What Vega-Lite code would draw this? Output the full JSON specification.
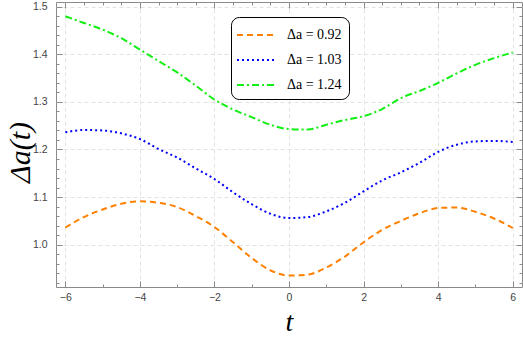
{
  "$schema": "https://vega.github.io/schema/vega-lite/v6.json",
  "autosize": {"type": "none"},
  "width": 466,
  "height": 285,
  "padding": {"left": 56, "top": 2, "right": 1, "bottom": 50},
  "background": "white",
  "config": {
    "view": {"stroke": "#8a8a8a", "strokeWidth": 1},
    "axis": {"domain": false, "labelFont": "Liberation Sans", "labelFontSize": 10.5, "labelColor": "#444", "tickColor": "#8a8a8a", "gridColor": "#e2e2e2", "gridDash": [4, 3], "gridWidth": 1}
  },
  "data": {"values": [
    {"t": -6, "v": 1.036, "s": "Δa = 0.92"}, {"t": -5.5, "v": 1.058, "s": "Δa = 0.92"}, {"t": -5, "v": 1.074, "s": "Δa = 0.92"}, {"t": -4.5, "v": 1.086, "s": "Δa = 0.92"}, {"t": -4, "v": 1.091, "s": "Δa = 0.92"}, {"t": -3.5, "v": 1.088, "s": "Δa = 0.92"}, {"t": -3, "v": 1.079, "s": "Δa = 0.92"}, {"t": -2.5, "v": 1.060, "s": "Δa = 0.92"}, {"t": -2, "v": 1.037, "s": "Δa = 0.92"}, {"t": -1.5, "v": 1.005, "s": "Δa = 0.92"}, {"t": -1, "v": 0.972, "s": "Δa = 0.92"}, {"t": -0.5, "v": 0.946, "s": "Δa = 0.92"}, {"t": 0, "v": 0.935, "s": "Δa = 0.92"}, {"t": 0.5, "v": 0.937, "s": "Δa = 0.92"}, {"t": 1, "v": 0.952, "s": "Δa = 0.92"}, {"t": 1.5, "v": 0.975, "s": "Δa = 0.92"}, {"t": 2, "v": 1.005, "s": "Δa = 0.92"}, {"t": 2.5, "v": 1.031, "s": "Δa = 0.92"}, {"t": 3, "v": 1.050, "s": "Δa = 0.92"}, {"t": 3.5, "v": 1.066, "s": "Δa = 0.92"}, {"t": 4, "v": 1.077, "s": "Δa = 0.92"}, {"t": 4.5, "v": 1.078, "s": "Δa = 0.92"}, {"t": 5, "v": 1.069, "s": "Δa = 0.92"}, {"t": 5.5, "v": 1.055, "s": "Δa = 0.92"}, {"t": 6, "v": 1.035, "s": "Δa = 0.92"},
    {"t": -6, "v": 1.236, "s": "Δa = 1.03"}, {"t": -5.5, "v": 1.241, "s": "Δa = 1.03"}, {"t": -5, "v": 1.240, "s": "Δa = 1.03"}, {"t": -4.5, "v": 1.234, "s": "Δa = 1.03"}, {"t": -4, "v": 1.222, "s": "Δa = 1.03"}, {"t": -3.5, "v": 1.201, "s": "Δa = 1.03"}, {"t": -3, "v": 1.183, "s": "Δa = 1.03"}, {"t": -2.5, "v": 1.160, "s": "Δa = 1.03"}, {"t": -2, "v": 1.138, "s": "Δa = 1.03"}, {"t": -1.5, "v": 1.110, "s": "Δa = 1.03"}, {"t": -1, "v": 1.085, "s": "Δa = 1.03"}, {"t": -0.5, "v": 1.065, "s": "Δa = 1.03"}, {"t": 0, "v": 1.056, "s": "Δa = 1.03"}, {"t": 0.5, "v": 1.058, "s": "Δa = 1.03"}, {"t": 1, "v": 1.070, "s": "Δa = 1.03"}, {"t": 1.5, "v": 1.088, "s": "Δa = 1.03"}, {"t": 2, "v": 1.112, "s": "Δa = 1.03"}, {"t": 2.5, "v": 1.135, "s": "Δa = 1.03"}, {"t": 3, "v": 1.152, "s": "Δa = 1.03"}, {"t": 3.5, "v": 1.172, "s": "Δa = 1.03"}, {"t": 4, "v": 1.195, "s": "Δa = 1.03"}, {"t": 4.5, "v": 1.210, "s": "Δa = 1.03"}, {"t": 5, "v": 1.217, "s": "Δa = 1.03"}, {"t": 5.5, "v": 1.218, "s": "Δa = 1.03"}, {"t": 6, "v": 1.216, "s": "Δa = 1.03"},
    {"t": -6, "v": 1.480, "s": "Δa = 1.24"}, {"t": -5.5, "v": 1.466, "s": "Δa = 1.24"}, {"t": -5, "v": 1.452, "s": "Δa = 1.24"}, {"t": -4.5, "v": 1.434, "s": "Δa = 1.24"}, {"t": -4, "v": 1.410, "s": "Δa = 1.24"}, {"t": -3.5, "v": 1.386, "s": "Δa = 1.24"}, {"t": -3, "v": 1.362, "s": "Δa = 1.24"}, {"t": -2.5, "v": 1.334, "s": "Δa = 1.24"}, {"t": -2, "v": 1.305, "s": "Δa = 1.24"}, {"t": -1.5, "v": 1.284, "s": "Δa = 1.24"}, {"t": -1, "v": 1.268, "s": "Δa = 1.24"}, {"t": -0.5, "v": 1.252, "s": "Δa = 1.24"}, {"t": 0, "v": 1.243, "s": "Δa = 1.24"}, {"t": 0.5, "v": 1.242, "s": "Δa = 1.24"}, {"t": 1, "v": 1.252, "s": "Δa = 1.24"}, {"t": 1.5, "v": 1.262, "s": "Δa = 1.24"}, {"t": 2, "v": 1.270, "s": "Δa = 1.24"}, {"t": 2.5, "v": 1.285, "s": "Δa = 1.24"}, {"t": 3, "v": 1.308, "s": "Δa = 1.24"}, {"t": 3.5, "v": 1.323, "s": "Δa = 1.24"}, {"t": 4, "v": 1.340, "s": "Δa = 1.24"}, {"t": 4.5, "v": 1.360, "s": "Δa = 1.24"}, {"t": 5, "v": 1.378, "s": "Δa = 1.24"}, {"t": 5.5, "v": 1.392, "s": "Δa = 1.24"}, {"t": 6, "v": 1.404, "s": "Δa = 1.24"}
  ]},
  "layer": [
    {
      "mark": {"type": "line", "strokeWidth": 2, "interpolate": "monotone"},
      "encoding": {
        "x": {"field": "t", "type": "quantitative", "scale": {"domain": [-6.25, 6.25], "nice": false, "zero": false},
          "axis": {"orient": "bottom", "title": "t", "titleFont": "Liberation Serif", "titleFontStyle": "italic", "titleFontWeight": "normal", "titleFontSize": 28, "titleColor": "black", "titleBaseline": "middle", "titleY": 35,
            "values": [-6, -5.5, -5, -4.5, -4, -3.5, -3, -2.5, -2, -1.5, -1, -0.5, 0, 0.5, 1, 1.5, 2, 2.5, 3, 3.5, 4, 4.5, 5, 5.5, 6],
            "format": "d",
            "labelExpr": "indexof([-6, -4, -2, 0, 2, 4, 6], datum.value) >= 0 ? datum.label : ''",
            "tickSize": {"condition": {"test": {"field": "value", "oneOf": [-6, -4, -2, 0, 2, 4, 6]}, "value": -6}, "value": -3},
            "gridOpacity": {"condition": {"test": {"field": "value", "oneOf": [-6, -4, -2, 0, 2, 4, 6]}, "value": 1}, "value": 0},
            "labelPadding": 11, "labelFlush": false}},
        "y": {"field": "v", "type": "quantitative", "scale": {"domain": [0.911, 1.51], "nice": false, "zero": false},
          "axis": {"orient": "left", "title": "Δa(t)", "titleFont": "Liberation Serif", "titleFontStyle": "italic", "titleFontWeight": "normal", "titleFontSize": 30, "titleColor": "black", "titleAngle": -90, "titleAlign": "center", "titleBaseline": "middle", "titleX": -36, "titleY": 150,
            "values": [0.92, 0.94, 0.96, 0.98, 1.0, 1.02, 1.04, 1.06, 1.08, 1.1, 1.12, 1.14, 1.16, 1.18, 1.2, 1.22, 1.24, 1.26, 1.28, 1.3, 1.32, 1.34, 1.36, 1.38, 1.4, 1.42, 1.44, 1.46, 1.48, 1.5],
            "format": ".1f",
            "labelExpr": "indexof([1.0, 1.1, 1.2, 1.3, 1.4, 1.5], datum.value) >= 0 ? datum.label : ''",
            "tickSize": {"condition": {"test": {"field": "value", "oneOf": [1.0, 1.1, 1.2, 1.3, 1.4, 1.5]}, "value": -6}, "value": -3},
            "gridOpacity": {"condition": {"test": {"field": "value", "oneOf": [1.0, 1.1, 1.2, 1.3, 1.4, 1.5]}, "value": 1}, "value": 0},
            "labelPadding": 15, "labelFlush": false}},
        "color": {"field": "s", "type": "nominal", "scale": {"range": ["#ff8000", "#0000ff", "#11ee11"]},
          "legend": {"title": null, "orient": "none", "legendX": 175, "legendY": 15, "symbolType": "M-1.9,0L1.9,0", "symbolSize": 400, "symbolOffset": 7, "symbolStrokeWidth": 2, "symbolFillColor": "transparent", "labelFont": "Liberation Serif", "labelFontSize": 14, "labelColor": "black", "labelOffset": 20, "rowPadding": 7, "padding": 7, "strokeColor": "black", "cornerRadius": 8, "fillColor": "white"}},
        "strokeDash": {"field": "s", "type": "nominal", "scale": {"range": [[6, 4], [2, 3], [7, 3, 2, 3]]}}
      }
    },
    {
      "mark": {"type": "line", "opacity": 0},
      "encoding": {
        "x": {"field": "t", "type": "quantitative", "scale": {"domain": [-6.25, 6.25], "nice": false, "zero": false},
          "axis": {"orient": "top", "title": null, "labels": false, "grid": false,
            "values": [-6, -5.5, -5, -4.5, -4, -3.5, -3, -2.5, -2, -1.5, -1, -0.5, 0, 0.5, 1, 1.5, 2, 2.5, 3, 3.5, 4, 4.5, 5, 5.5, 6],
            "tickSize": {"condition": {"test": {"field": "value", "oneOf": [-6, -4, -2, 0, 2, 4, 6]}, "value": -6}, "value": -3}}},
        "y": {"field": "v", "type": "quantitative", "scale": {"domain": [0.911, 1.51], "nice": false, "zero": false},
          "axis": {"orient": "right", "title": null, "labels": false, "grid": false,
            "values": [0.92, 0.94, 0.96, 0.98, 1.0, 1.02, 1.04, 1.06, 1.08, 1.1, 1.12, 1.14, 1.16, 1.18, 1.2, 1.22, 1.24, 1.26, 1.28, 1.3, 1.32, 1.34, 1.36, 1.38, 1.4, 1.42, 1.44, 1.46, 1.48, 1.5],
            "tickSize": {"condition": {"test": {"field": "value", "oneOf": [1.0, 1.1, 1.2, 1.3, 1.4, 1.5]}, "value": -6}, "value": -3}}},
        "detail": {"field": "s", "type": "nominal"}
      }
    }
  ],
  "resolve": {"axis": {"x": "independent", "y": "independent"}}
}
